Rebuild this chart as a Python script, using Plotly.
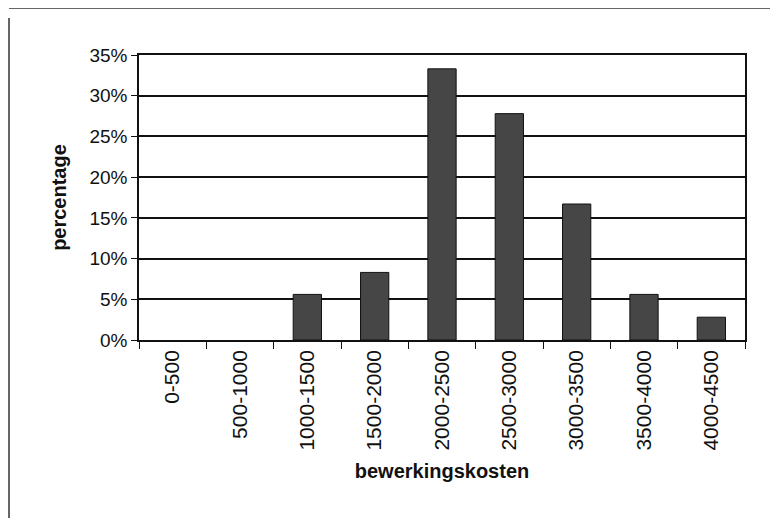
import plotly.graph_objects as go

categories = ["0-500", "500-1000", "1000-1500", "1500-2000", "2000-2500",
              "2500-3000", "3000-3500", "3500-4000", "4000-4500"]
percentages = [0.0, 0.0, 0.056, 0.083, 0.333, 0.278, 0.167, 0.056, 0.028]
y_ticks = [0, 0.05, 0.10, 0.15, 0.20, 0.25, 0.30, 0.35]

# page body margin offset (browser default 8px)
OFF = 8
W, H = 778 - OFF, 518 - OFF
L, R, T, B = 139 - OFF, 745 - OFF, 55 - OFF, 340 - OFF

font_family = "Arial, Liberation Sans, Helvetica, sans-serif"

line_widths = [0 if v == 0 else 1 for v in percentages]

fig = go.Figure(go.Bar(
    x=categories, y=percentages,
    marker=dict(color="#464646", line=dict(color="#111111", width=line_widths)),
))

def px_x(p):
    return (p - OFF - L) / (R - L)

def px_y(p):
    return (B - (p - OFF)) / (B - T)

fig.update_layout(
    width=W, height=H,
    margin=dict(l=L, r=W - R, t=T, b=H - B, pad=0),
    paper_bgcolor="white", plot_bgcolor="white",
    bargap=0.58,
    showlegend=False,
    font=dict(family=font_family, color="#111111", size=19),
    xaxis=dict(
        type="category",
        showline=True, linecolor="#111111", linewidth=1.5, mirror=True,
        ticks="outside", ticklen=7, tickcolor="#111111", tickwidth=1,
        tickson="boundaries",
        tickangle=-90,
        tickfont=dict(size=21),
        showgrid=False,
        title=dict(text="<b>bewerkingskosten</b>", font=dict(size=20), standoff=14),
    ),
    yaxis=dict(
        range=[0, 0.35],
        tickvals=y_ticks,
        tickformat=".0%",
        showline=True, linecolor="#111111", linewidth=1.5, mirror=True,
        ticks="outside", ticklen=6, tickcolor="#111111", tickwidth=1,
        showgrid=True, gridcolor="#111111", gridwidth=1.5,
        zeroline=False,
        tickfont=dict(size=19),
        title=dict(text="<b>percentage</b>", font=dict(size=20), standoff=17),
    ),
    shapes=[
        dict(type="line", xref="paper", yref="paper",
             x0=px_x(9), x1=px_x(778), y0=px_y(8), y1=px_y(8),
             line=dict(color="#333333", width=1.5)),
        dict(type="line", xref="paper", yref="paper",
             x0=px_x(9), x1=px_x(9), y0=px_y(18), y1=px_y(518),
             line=dict(color="#333333", width=1.5)),
    ],
)

fig.write_html("out.html")
